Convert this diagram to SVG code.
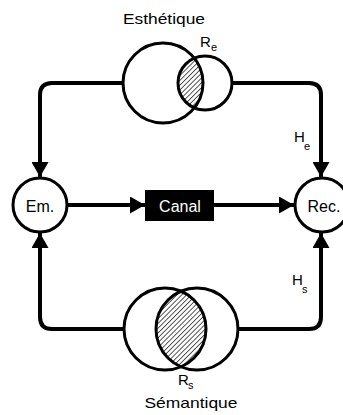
<svg xmlns="http://www.w3.org/2000/svg" width="343" height="415" viewBox="0 0 343 415">
<style>
.ring{fill:none;stroke:#000;stroke-width:3}
.node{fill:#fff;stroke:#000;stroke-width:3}
.wire{fill:none;stroke:#000;stroke-width:4;stroke-linejoin:round}
.lbl{font-family:"Liberation Sans",Arial,sans-serif;fill:#000}
.hatch{fill:url(#hatch);stroke:none}
</style>
<defs>
<pattern id="hatch" patternUnits="userSpaceOnUse" width="3.4" height="3.4" patternTransform="rotate(45)">
<rect width="3.4" height="3.4" fill="#fff"/>
<line x1="0" y1="0" x2="0" y2="3.4" stroke="#000" stroke-width="1.3"/>
</pattern>
<marker id="arrow" markerUnits="userSpaceOnUse" markerWidth="15" markerHeight="17" viewBox="0 0 15 17" refX="15" refY="8.5" orient="auto">
<path d="M0 0 L15 8.5 L0 17 Z" fill="#000"/>
</marker>
</defs>
<g id="connectors">
<path class="wire" d="M123 83 L52 83 Q40 83 40 95 L40 177" marker-end="url(#arrow)"/>
<path class="wire" d="M232 83 L309 83 Q321 83 321 95 L321 177" marker-end="url(#arrow)"/>
<path class="wire" d="M124 329 L52 329 Q40 329 40 317 L40 233" marker-end="url(#arrow)"/>
<path class="wire" d="M238 329 L309 329 Q321 329 321 317 L321 233" marker-end="url(#arrow)"/>
<path class="wire" d="M68 205 L145 205" marker-end="url(#arrow)"/>
<path class="wire" d="M214 205 L294 205" marker-end="url(#arrow)"/>
</g>
<g id="esthetique">
<path class="hatch" d="M194.4 58.2 A40 40 0 0 1 194.4 107.8 A27 27 0 0 1 194.4 58.2 Z"/>
<circle class="ring" cx="163" cy="83" r="40"/>
<circle class="ring" cx="205" cy="83" r="27"/>
<text class="lbl" x="164" y="24" font-size="15" text-anchor="middle" textLength="82" lengthAdjust="spacingAndGlyphs">Esthétique</text>
<text class="lbl" x="200" y="47" font-size="15">R</text>
<text class="lbl" x="211" y="51" font-size="11">e</text>
</g>
<g id="semantique">
<path class="hatch" d="M181 291.25 A41 41 0 0 1 181 366.75 A41 41 0 0 1 181 291.25 Z"/>
<circle class="ring" cx="165" cy="329" r="41"/>
<circle class="ring" cx="197" cy="329" r="41"/>
<text class="lbl" x="178" y="385" font-size="15">R</text>
<text class="lbl" x="188" y="389" font-size="11">s</text>
<text class="lbl" x="191" y="408" font-size="15" text-anchor="middle" textLength="93" lengthAdjust="spacingAndGlyphs">Sémantique</text>
</g>
<g id="em">
<circle class="node" cx="40" cy="205" r="27"/>
<text class="lbl" x="40" y="212" font-size="16" text-anchor="middle">Em.</text>
</g>
<g id="canal">
<rect x="145" y="190" width="69" height="31" fill="#000"/>
<text class="lbl" x="180" y="212" font-size="16" text-anchor="middle" style="fill:#fff">Canal</text>
</g>
<g id="rec">
<circle class="node" cx="322" cy="205" r="27"/>
<text class="lbl" x="324" y="212" font-size="16" text-anchor="middle">Rec.</text>
</g>
<g id="he">
<text class="lbl" x="294" y="142" font-size="15">H</text>
<text class="lbl" x="304" y="150" font-size="11">e</text>
</g>
<g id="hs">
<text class="lbl" x="292" y="285" font-size="15">H</text>
<text class="lbl" x="302" y="293" font-size="11">s</text>
</g>
</svg>
